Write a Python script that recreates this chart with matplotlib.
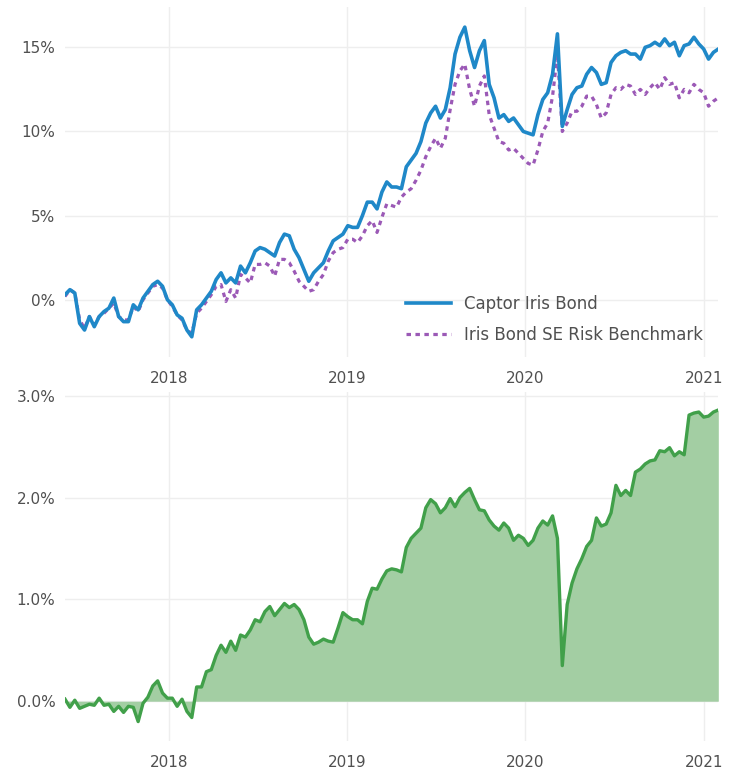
import numpy as np
import pandas as pd
import matplotlib
matplotlib.use("Agg")
import matplotlib.pyplot as plt
import matplotlib.ticker as mticker

# dates: one reading every 10 days from mid-2017 to end of Jan 2021
start_date = "2017-06-01"
step = "10D"

# cumulative return, %
fund = [0.3, 0.6, 0.4, -1.4, -1.8, -1.0, -1.6, -1.0, -0.7, -0.5,
        0.1, -1.0, -1.3, -1.3, -0.3, -0.6, 0.1, 0.5, 0.9, 1.1,
        0.8, 0.0, -0.3, -0.9, -1.1, -1.8, -2.2, -0.6, -0.3, 0.1,
        0.5, 1.2, 1.6, 1.0, 1.3, 1.0, 2.0, 1.6, 2.2, 2.9,
        3.1, 3.0, 2.8, 2.6, 3.4, 3.9, 3.8, 3.0, 2.5, 1.8,
        1.1, 1.6, 1.9, 2.2, 2.9, 3.5, 3.7, 3.9, 4.4, 4.3,
        4.3, 5.0, 5.8, 5.8, 5.4, 6.4, 7.0, 6.7, 6.7, 6.6,
        7.9, 8.3, 8.7, 9.4, 10.5, 11.1, 11.5, 10.8, 11.3, 12.6,
        14.6, 15.6, 16.2, 14.8, 13.8, 14.8, 15.4, 12.8, 12.0, 10.8,
        11.0, 10.6, 10.8, 10.4, 10.0, 9.9, 9.8, 11.0, 11.9, 12.3,
        13.4, 15.8, 10.3, 11.3, 12.2, 12.6, 12.7, 13.4, 13.8, 13.5,
        12.8, 12.9, 14.1, 14.5, 14.7, 14.8, 14.6, 14.6, 14.3, 15.0,
        15.1, 15.3, 15.1, 15.5, 15.1, 15.3, 14.5, 15.1, 15.2, 15.6,
        15.2, 14.9, 14.3, 14.7, 14.9]

bench = [0.2, 0.6, 0.4, -1.2, -1.7, -1.0, -1.5, -1.0, -0.8, -0.5,
         -0.2, -1.0, -1.2, -1.2, -0.4, -0.7, 0.0, 0.4, 0.8, 0.9,
         0.7, 0.0, -0.4, -0.9, -1.2, -1.8, -2.0, -0.8, -0.5, -0.1,
         0.3, 0.8, 0.9, -0.1, 0.6, 0.1, 1.5, 1.3, 1.0, 2.1,
         2.1, 2.2, 2.0, 1.4, 2.4, 2.4, 2.2, 1.7, 1.1, 0.8,
         0.5, 0.6, 1.1, 1.5, 2.3, 2.8, 3.0, 3.1, 3.6, 3.6,
         3.4, 3.8, 4.4, 4.7, 4.0, 4.9, 5.7, 5.6, 5.5, 6.1,
         6.4, 6.6, 7.1, 7.7, 8.5, 9.1, 9.6, 9.0, 9.6, 11.3,
         12.8, 13.6, 14.0, 12.5, 11.5, 12.7, 13.3, 11.0, 10.2, 9.4,
         9.3, 8.9, 9.0, 8.7, 8.4, 8.1, 8.0, 8.9, 10.0, 10.5,
         12.1, 14.6, 10.0, 10.5, 11.2, 11.2, 11.5, 12.1, 12.1, 11.6,
         10.8, 11.1, 12.2, 12.6, 12.5, 12.8, 12.7, 12.2, 12.5, 12.2,
         12.6, 12.9, 12.5, 13.2, 12.8, 12.9, 12.0, 12.5, 12.3, 12.8,
         12.5, 12.3, 11.5, 11.8, 12.0]

# relative performance vs benchmark, %
excess = [0.02, -0.06, 0.01, -0.07, -0.05, -0.03, -0.04, 0.03, -0.04, -0.03,
          -0.10, -0.05, -0.11, -0.05, -0.06, -0.20, -0.02, 0.04, 0.15, 0.20,
          0.08, 0.03, 0.03, -0.05, 0.02, -0.10, -0.16, 0.14, 0.14, 0.29,
          0.31, 0.45, 0.55, 0.48, 0.59, 0.50, 0.65, 0.63, 0.70, 0.80,
          0.78, 0.88, 0.93, 0.84, 0.90, 0.96, 0.92, 0.95, 0.90, 0.80,
          0.63, 0.56, 0.58, 0.61, 0.59, 0.58, 0.72, 0.87, 0.83, 0.80,
          0.80, 0.76, 0.98, 1.11, 1.10, 1.20, 1.28, 1.30, 1.29, 1.27,
          1.51, 1.60, 1.65, 1.70, 1.90, 1.98, 1.94, 1.85, 1.90, 1.99,
          1.91, 2.00, 2.05, 2.09, 1.98, 1.88, 1.87, 1.78, 1.72, 1.68,
          1.75, 1.70, 1.58, 1.63, 1.60, 1.53, 1.58, 1.70, 1.77, 1.73,
          1.82, 1.60, 0.35, 0.95, 1.16, 1.30, 1.40, 1.52, 1.58, 1.80,
          1.72, 1.74, 1.85, 2.12, 2.02, 2.07, 2.02, 2.25, 2.28, 2.33,
          2.36, 2.37, 2.46, 2.45, 2.49, 2.41, 2.45, 2.42, 2.81, 2.83,
          2.84, 2.79, 2.80, 2.84, 2.86]

year_ticks = ["2018", "2019", "2020", "2021"]
labels = ["Captor Iris Bond", "Iris Bond SE Risk Benchmark"]

dates = pd.date_range(start_date, periods=len(fund), freq=step)
ticks = pd.to_datetime(year_ticks)

plt.rcParams["font.family"] = ["DejaVu Sans"]
text_col = "#505050"
grid_col = "#eeeeee"

fig = plt.figure(figsize=(7.39, 7.71), dpi=100)
ax1 = fig.add_axes([0.088, 0.537, 0.884, 0.454])
ax2 = fig.add_axes([0.088, 0.039, 0.884, 0.453])

ax1.plot(dates, fund, color="#1f88c8", lw=2.6, label=labels[0], zorder=3)
ax1.plot(dates, bench, color="#9b59b6", lw=2.3, ls=(0, (1.4, 1.4)),
         dash_capstyle="butt", label=labels[1], zorder=2)
ax1.set_ylim(-3.4, 17.4)
ax1.set_yticks([0, 5, 10, 15])
ax1.yaxis.set_major_formatter(mticker.FuncFormatter(lambda v, p: f"{v:.0f}%"))
leg = ax1.legend(loc="lower right", bbox_to_anchor=(1.0, -0.005), frameon=False,
                 fontsize=12, handlelength=2.7, labelspacing=0.75,
                 labelcolor=text_col)

ax2.fill_between(dates, excess, 0, color="#a3cea3", lw=0, zorder=1)
ax2.plot(dates, excess, color="#41a04a", lw=2.4, zorder=3)
ax2.set_ylim(-0.39, 3.04)
ax2.set_yticks([0, 1, 2, 3])
ax2.yaxis.set_major_formatter(mticker.FuncFormatter(lambda v, p: f"{v:.1f}%"))

for ax in (ax1, ax2):
    ax.set_xlim(dates[0], dates[-1])
    ax.set_xticks(ticks)
    ax.set_xticklabels(year_ticks)
    for s in ax.spines.values():
        s.set_visible(False)
    ax.grid(True, color=grid_col, lw=1)
    ax.set_axisbelow(True)
    ax.tick_params(length=0, labelsize=11, colors=text_col)
    ax.tick_params(axis="x", pad=10)
    ax.tick_params(axis="y", pad=7)

fig.savefig("out.png", dpi=100)
